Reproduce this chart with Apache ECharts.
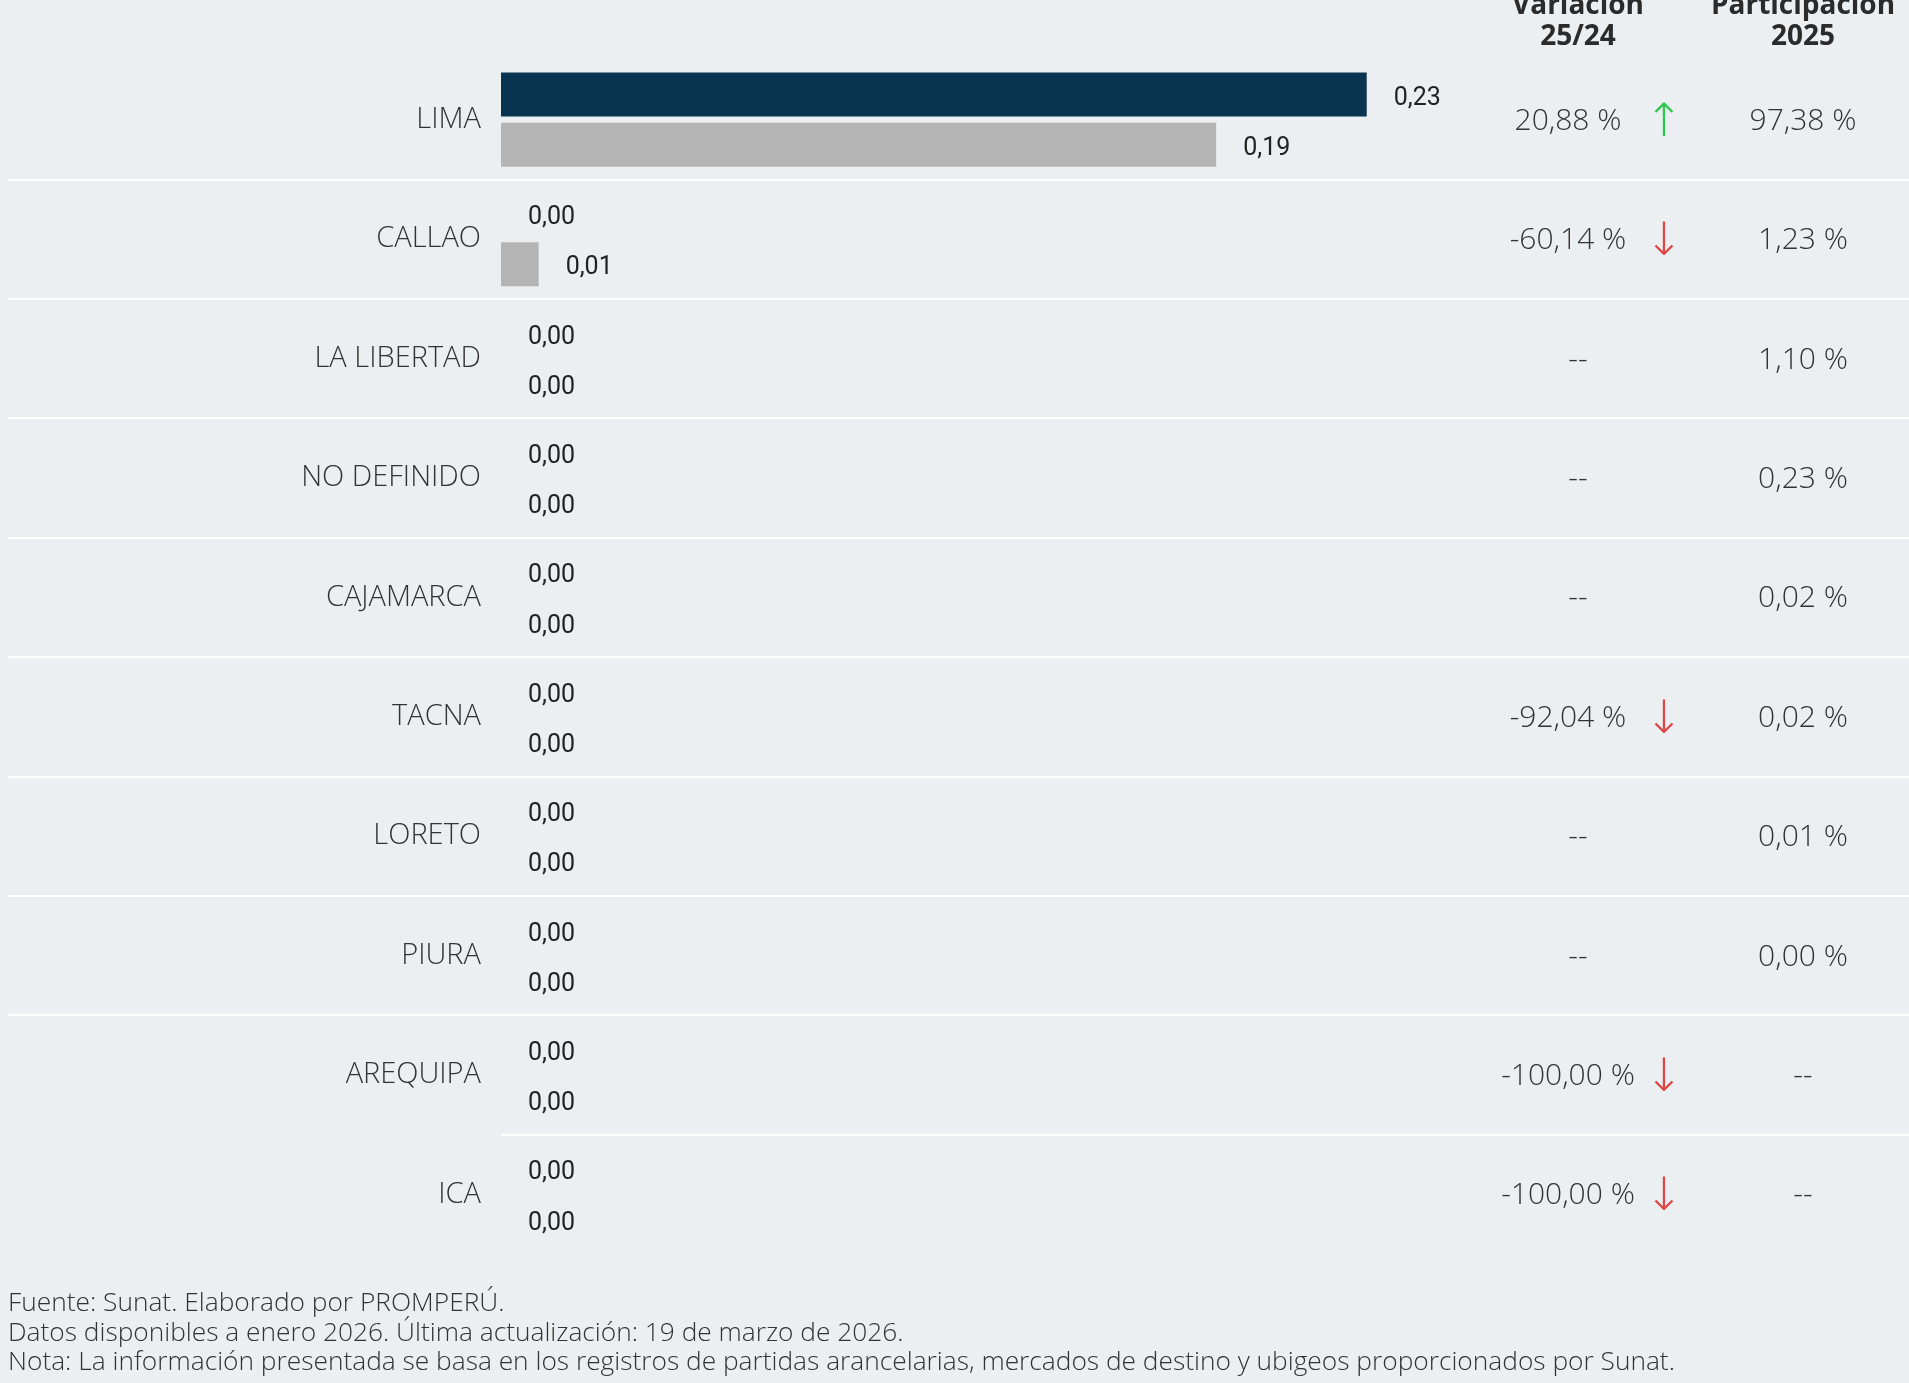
<!DOCTYPE html>
<html>
<head>
<meta charset="utf-8">
<script src="https://cdn.jsdelivr.net/npm/echarts@6/dist/echarts.min.js"></script>
<style>
html,body{margin:0;padding:0;background:#ebeff2;}
#chart{width:1909px;height:1383px;}
</style>
</head>
<body>
<div id="chart"></div>
<script>
const categories = ['LIMA','CALLAO','LA LIBERTAD','NO DEFINIDO','CAJAMARCA','TACNA','LORETO','PIURA','AREQUIPA','ICA'];
const values2025 = [0.23,0.00,0.00,0.00,0.00,0.00,0.00,0.00,0.00,0.00];
const values2024 = [0.19,0.01,0.00,0.00,0.00,0.00,0.00,0.00,0.00,0.00];
const variation = [20.88,-60.14,null,null,null,-92.04,null,null,-100.00,-100.00];
const share2025 = [97.38,1.23,1.10,0.23,0.02,0.02,0.01,0.00,null,null];
const headerVar = 'Variación\n25/24';
const headerShare = 'Participación\n2025';
const footerLines = [
  'Fuente: Sunat. Elaborado por PROMPERÚ.',
  'Datos disponibles a enero 2026. Última actualización: 19 de marzo de 2026.',
  'Nota: La información presentada se basa en los registros de partidas arancelarias, mercados de destino y ubigeos proporcionados por Sunat.'
];

const fmt = (v) => v.toFixed(2).replace('.', ',');
const TXT = "'Open Sans', 'Noto Sans', sans-serif";
const NUM = "Roboto, 'Noto Sans', sans-serif";
const TOP = 60, H = 1194;

const varLabels = variation.map(v => v === null ? '{d|--}' : '{v|' + fmt(v) + ' %}');
const arrowLabels = variation.map(v => v === null ? '' : (v >= 0 ? '{up|↑}' : '{down|↓}'));
const shareLabels = share2025.map(v => v === null ? '--' : fmt(v) + ' %');

const sepFull = categories.map((c, i) => (i >= 1 && i <= 8) ? '#ffffff' : 'rgba(0,0,0,0)').concat(['rgba(0,0,0,0)']);
const sepPart = categories.map((c, i) => (i === 9) ? '#ffffff' : 'rgba(0,0,0,0)').concat(['rgba(0,0,0,0)']);

const chart = echarts.init(document.getElementById('chart'));
const hiddenX = (g) => ({type:'value', gridIndex:g, show:false});
const textAxis = (offset, labels, fontSize, rich, padTop) => ({
  type:'category', gridIndex:1, inverse:true, data:labels, position:'left', offset:offset,
  axisLine:{show:false}, axisTick:{show:false}, splitLine:{show:false},
  axisLabel:{show:true, align:'center', margin:0, fontSize:fontSize, fontFamily:TXT, fontWeight:300, color:'#333333', rich:rich, padding:[padTop,0,0,0]}
});

const barLabel = {show:true, position:'right', distance:27, offset:[0,4], formatter:(p)=>fmt(p.value), fontSize:25, fontFamily:NUM, color:'#222222'};

chart.setOption({
  backgroundColor:'#ebeff2',
  animation:false,
  grid:[
    {left:501, top:TOP, width:941, height:H},
    {left:8, right:0, top:TOP, height:H},
    {left:501, right:0, top:TOP, height:H}
  ],
  xAxis:[
    {type:'value', gridIndex:0, min:0, max:0.25, show:false},
    hiddenX(1), hiddenX(2)
  ],
  yAxis:[
    {type:'category', gridIndex:0, inverse:true, data:categories,
     axisLine:{show:false}, axisTick:{show:false}, splitLine:{show:false},
     axisLabel:{margin:20, fontSize:29, fontFamily:TXT, fontWeight:300, color:'#333333', padding:[5,0,0,0]}},
    {type:'category', gridIndex:1, inverse:true, data:categories,
     axisLine:{show:false}, axisTick:{show:false}, axisLabel:{show:false},
     splitLine:{show:true, lineStyle:{color:sepFull, width:2}}},
    textAxis(-1560, varLabels, 30, {
      v:{fontSize:30, fontFamily:TXT, fontWeight:300, color:'#333333'},
      d:{fontSize:30, fontFamily:TXT, fontWeight:300, color:'#333333', padding:[0,0,0,20]}
    }, 3),
    textAxis(-1656, arrowLabels, 44, {
      up:{fontSize:46, fontFamily:"'DejaVu Sans', sans-serif", color:'#2ec84f'},
      down:{fontSize:46, fontFamily:"'DejaVu Sans', sans-serif", color:'#e04444'}
    }, 8),
    textAxis(-1795, shareLabels, 30, {}, 3),
    {type:'category', gridIndex:2, inverse:true, data:categories,
     axisLine:{show:false}, axisTick:{show:false}, axisLabel:{show:false},
     splitLine:{show:true, lineStyle:{color:sepPart, width:2}}}
  ],
  series:[
    {name:'2025', type:'bar', xAxisIndex:0, yAxisIndex:0, data:values2025, barWidth:44, barGap:'14%',
     itemStyle:{color:'#08344f'}, label:barLabel},
    {name:'2024', type:'bar', xAxisIndex:0, yAxisIndex:0, data:values2024, barWidth:44, barGap:'14%',
     itemStyle:{color:'#b4b4b4'}, label:barLabel}
  ],
  graphic:[
    {type:'text', x:1578, y:-9, style:{text:headerVar, fontSize:28, fontWeight:'bold', fontFamily:TXT, fill:'#2b2b2b', align:'center', verticalAlign:'top', lineHeight:31}},
    {type:'text', x:1803, y:-9, style:{text:headerShare, fontSize:28, fontWeight:'bold', fontFamily:TXT, fill:'#2b2b2b', align:'center', verticalAlign:'top', lineHeight:31}},
    {type:'text', x:8, y:1289, style:{text:footerLines.join('\n'), fontSize:26.3, fontWeight:300, fontFamily:TXT, fill:'#333333', align:'left', verticalAlign:'top', lineHeight:29.5}}
  ]
});
</script>
</body>
</html>
